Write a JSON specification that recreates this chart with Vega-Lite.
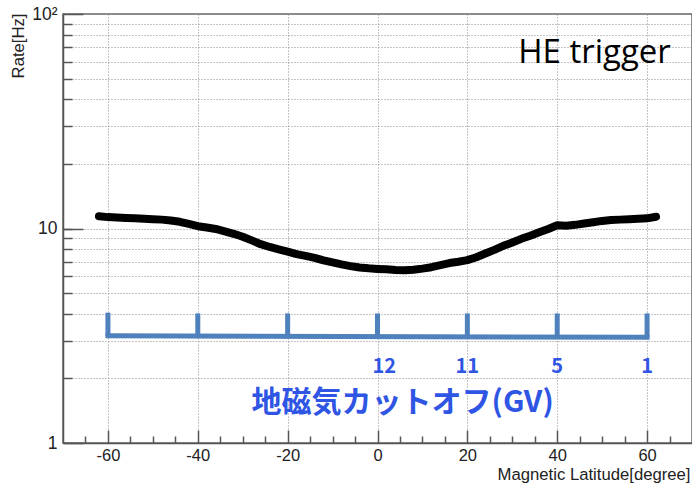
{
  "$schema": "https://vega.github.io/schema/vega-lite/v6.json",
  "width": 629,
  "height": 429,
  "autosize": {"type": "none"},
  "padding": {"left": 63, "top": 14, "right": 0, "bottom": 41},
  "background": "white",
  "config": {
    "view": {"stroke": "#666", "strokeWidth": 1.5},
    "axis": {
      "labelFont": "Liberation Sans",
      "titleFont": "Liberation Sans",
      "labelColor": "#222",
      "titleColor": "#222",
      "titleFontWeight": "normal",
      "domainColor": "#555",
      "tickColor": "#555",
      "gridColor": "#8a8a8a",
      "gridDash": [1, 2],
      "gridWidth": 1
    }
  },
  "resolve": {"axis": {"x": "independent", "y": "independent"}},
  "datasets": {
    "curve": [
      {"lat": -62, "rate": 11.4}, {"lat": -60, "rate": 11.3}, {"lat": -58, "rate": 11.25},
      {"lat": -56, "rate": 11.2}, {"lat": -54, "rate": 11.15}, {"lat": -52, "rate": 11.1},
      {"lat": -50, "rate": 11.05}, {"lat": -48, "rate": 11.0}, {"lat": -46, "rate": 10.9},
      {"lat": -44, "rate": 10.75}, {"lat": -42, "rate": 10.5}, {"lat": -40, "rate": 10.25},
      {"lat": -38, "rate": 10.1}, {"lat": -36, "rate": 9.95}, {"lat": -34, "rate": 9.7},
      {"lat": -32, "rate": 9.45}, {"lat": -30, "rate": 9.15}, {"lat": -28, "rate": 8.8},
      {"lat": -26, "rate": 8.45}, {"lat": -24, "rate": 8.2}, {"lat": -22, "rate": 8.0},
      {"lat": -20, "rate": 7.8}, {"lat": -18, "rate": 7.6}, {"lat": -16, "rate": 7.45},
      {"lat": -14, "rate": 7.3}, {"lat": -12, "rate": 7.1}, {"lat": -10, "rate": 6.95},
      {"lat": -8, "rate": 6.8}, {"lat": -6, "rate": 6.68}, {"lat": -4, "rate": 6.58},
      {"lat": -2, "rate": 6.52}, {"lat": 0, "rate": 6.48}, {"lat": 2, "rate": 6.45},
      {"lat": 4, "rate": 6.4}, {"lat": 6, "rate": 6.38}, {"lat": 8, "rate": 6.42},
      {"lat": 10, "rate": 6.5}, {"lat": 12, "rate": 6.6}, {"lat": 14, "rate": 6.75},
      {"lat": 16, "rate": 6.9}, {"lat": 18, "rate": 7.0}, {"lat": 20, "rate": 7.12},
      {"lat": 22, "rate": 7.35}, {"lat": 24, "rate": 7.65}, {"lat": 26, "rate": 7.95},
      {"lat": 28, "rate": 8.3}, {"lat": 30, "rate": 8.6}, {"lat": 32, "rate": 8.95},
      {"lat": 34, "rate": 9.25}, {"lat": 36, "rate": 9.6}, {"lat": 38, "rate": 9.95},
      {"lat": 40, "rate": 10.35}, {"lat": 42, "rate": 10.3}, {"lat": 44, "rate": 10.4},
      {"lat": 46, "rate": 10.55}, {"lat": 48, "rate": 10.7}, {"lat": 50, "rate": 10.85},
      {"lat": 52, "rate": 10.95}, {"lat": 54, "rate": 11.0}, {"lat": 56, "rate": 11.05},
      {"lat": 58, "rate": 11.1}, {"lat": 60, "rate": 11.15}, {"lat": 62, "rate": 11.35}
    ],
    "bracketLine": [
      {"lat": -60, "rate": 3.16}, {"lat": 60, "rate": 3.11}
    ],
    "bracketTicks": [
      {"lat": -60, "low": 3.16, "high": 4.05}, {"lat": -40, "low": 3.15, "high": 4.02},
      {"lat": -20, "low": 3.14, "high": 4.02}, {"lat": 0, "low": 3.14, "high": 4.02},
      {"lat": 20, "low": 3.13, "high": 4.02}, {"lat": 40, "low": 3.12, "high": 4.02},
      {"lat": 60, "low": 3.11, "high": 4.02}
    ],
    "cutoff": [
      {"lat": 1.5, "rate": 2.25, "gv": "12"}, {"lat": 20, "rate": 2.25, "gv": "11"},
      {"lat": 40, "rate": 2.25, "gv": "5"}, {"lat": 60, "rate": 2.25, "gv": "1"}
    ],
    "caption": [{"lat": 5.6, "rate": 1.53, "text": "地磁気カットオフ(GV)"}],
    "label": [{"lat": 48.3, "rate": 66, "text": "HE trigger"}]
  },
  "layer": [
    {
      "data": {"name": "bracketTicks"},
      "mark": {"type": "rule", "color": "#4F81BD", "strokeWidth": 5},
      "encoding": {
        "x": {"field": "lat", "type": "quantitative",
          "scale": {"domain": [-70, 70], "nice": false, "zero": false},
          "axis": {"values": [-65, -55, -50, -45, -35, -30, -25, -15, -10, -5, 5, 10, 15, 25, 30, 35, 45, 50, 55, 65],
            "orient": "bottom", "tickSize": -7, "tickWidth": 1.5, "labels": false, "domain": false, "grid": false, "title": null}},
        "y": {"field": "high", "type": "quantitative",
          "scale": {"type": "log", "domain": [1, 100], "nice": false},
          "axis": {"values": [2, 3, 4, 5, 6, 7, 8, 9, 10, 20, 30, 40, 50, 60, 70, 80, 90],
            "tickSize": -9, "tickWidth": 1.5, "labels": false, "domain": false, "grid": true, "title": null, "orient": "left"}},
        "y2": {"field": "low"}
      }
    },
    {
      "data": {"name": "bracketLine"},
      "mark": {"type": "line", "color": "#4F81BD", "strokeWidth": 5, "strokeCap": "square"},
      "encoding": {
        "x": {"field": "lat", "type": "quantitative",
          "axis": {"values": [-60, -40, -20, 0, 20, 40, 60], "orient": "bottom", "tickSize": -13, "tickWidth": 1.5,
            "labels": false, "domain": false, "grid": true, "title": null}},
        "y": {"field": "rate", "type": "quantitative",
          "axis": {"values": [1, 10, 100], "tickSize": -20, "tickWidth": 1.5, "labels": false,
            "domain": false, "grid": false, "title": null, "orient": "left"}}
      }
    },
    {
      "data": {"name": "curve"},
      "mark": {"type": "line", "color": "black", "strokeWidth": 8, "strokeCap": "round", "strokeJoin": "round"},
      "encoding": {
        "x": {"field": "lat", "type": "quantitative",
          "axis": {"values": [-60, -40, -20, 0, 20, 40, 60], "orient": "bottom", "ticks": false, "tickSize": 0,
            "labelFontSize": 16.5, "labelPadding": 4,
            "labelExpr": "datum.value < 0 ? '-' + abs(datum.value) : '' + datum.value",
            "grid": false, "domain": true, "domainWidth": 1.5,
            "title": "Magnetic Latitude[degree]", "titleFontSize": 16.7, "titleAnchor": "end",
            "titleAlign": "right", "titleBaseline": "alphabetic", "titleX": 627, "titleY": 36}},
        "y": {"field": "rate", "type": "quantitative",
          "axis": {"values": [1, 10, 100], "ticks": false, "tickSize": 0, "labelFontSize": 17.5,
            "labelPadding": 6, "labelExpr": "datum.value == 100 ? '10²' : datum.value == 10 ? '10' : '1'",
            "grid": false, "domain": true, "domainWidth": 1.5, "orient": "left",
            "title": "Rate[Hz]", "titleFontSize": 16.7, "titleAngle": -90, "titleAnchor": "end",
            "titleAlign": "right", "titleBaseline": "middle", "titleX": -45, "titleY": -1}}
      }
    },
    {
      "data": {"name": "cutoff"},
      "mark": {"type": "text", "font": "Noto Sans CJK JP", "fontWeight": "bold", "fontSize": 20,
        "color": "#2F55E4", "align": "center", "baseline": "middle"},
      "encoding": {
        "x": {"field": "lat", "type": "quantitative", "axis": null},
        "y": {"field": "rate", "type": "quantitative", "axis": null},
        "text": {"field": "gv"}
      }
    },
    {
      "data": {"name": "caption"},
      "mark": {"type": "text", "font": "Noto Sans CJK JP", "fontWeight": "bold", "fontSize": 30,
        "color": "#2F55E4", "align": "center", "baseline": "middle"},
      "encoding": {
        "x": {"field": "lat", "type": "quantitative", "axis": null},
        "y": {"field": "rate", "type": "quantitative", "axis": null},
        "text": {"field": "text"}
      }
    },
    {
      "data": {"name": "label"},
      "mark": {"type": "text", "font": "Open Sans", "fontSize": 33,
        "color": "black", "align": "center", "baseline": "middle"},
      "encoding": {
        "x": {"field": "lat", "type": "quantitative", "axis": null},
        "y": {"field": "rate", "type": "quantitative", "axis": null},
        "text": {"field": "text"}
      }
    }
  ]
}
